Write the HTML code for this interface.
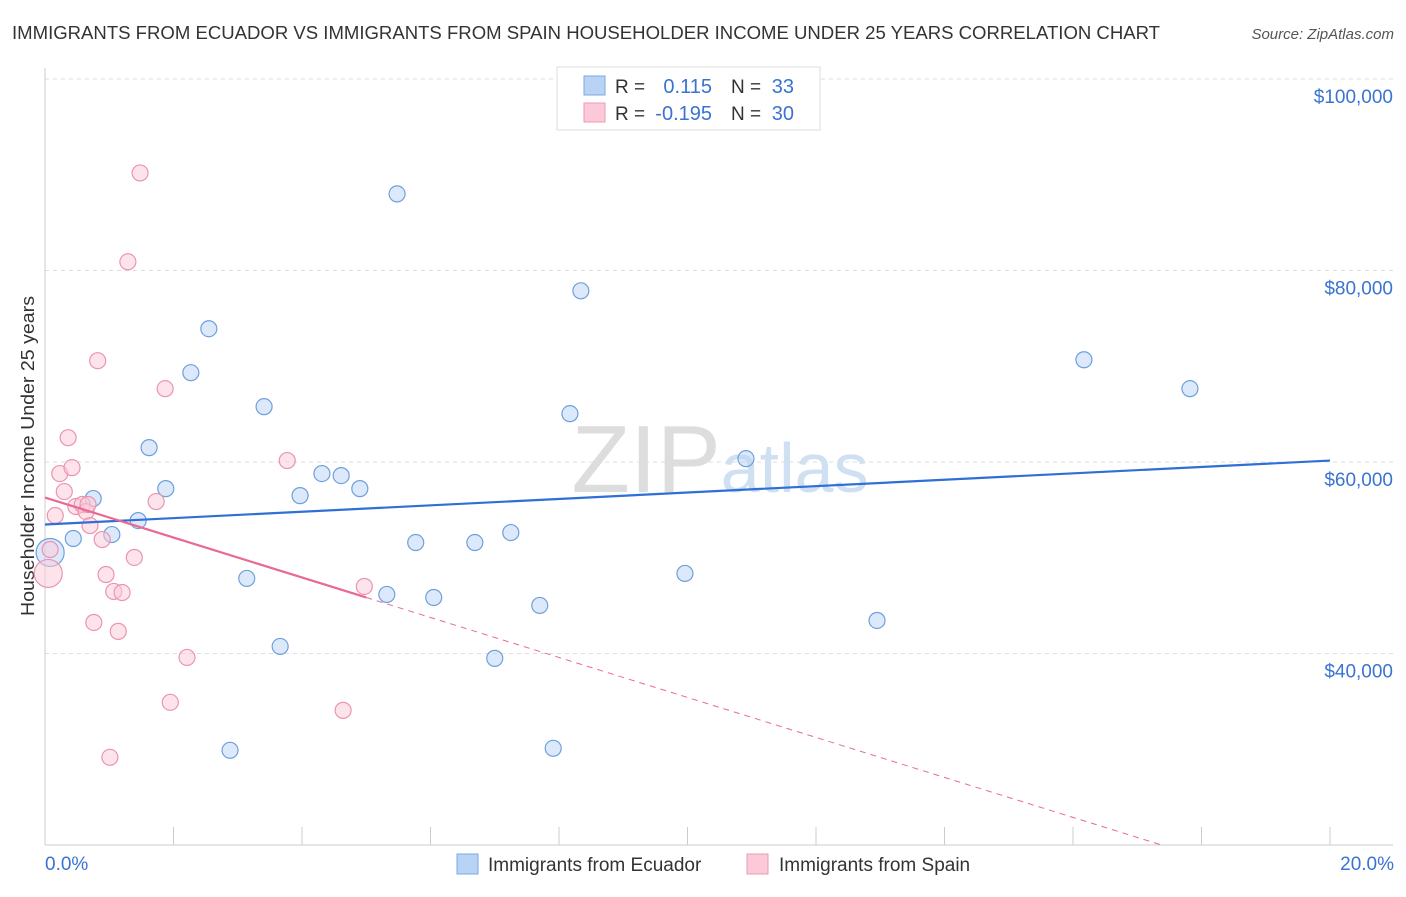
<!DOCTYPE html>
<html><head><meta charset="utf-8"><style>
body{margin:0;background:#fff;font-family:"Liberation Sans",sans-serif;}
svg text{font-family:"Liberation Sans",sans-serif;}
</style></head><body>
<svg id="chart" width="1406" height="892">
<text x="12" y="39" font-size="18" fill="#333" textLength="1148" lengthAdjust="spacingAndGlyphs">IMMIGRANTS FROM ECUADOR VS IMMIGRANTS FROM SPAIN HOUSEHOLDER INCOME UNDER 25 YEARS CORRELATION CHART</text>
<text x="1394" y="39" font-size="15" font-style="italic" fill="#555" text-anchor="end">Source: ZipAtlas.com</text>
<text x="720" y="492" font-size="96" fill="#ddd" font-family="Liberation Serif" text-anchor="middle">ZIP<tspan fill="#cfe0f3" font-family="Liberation Sans" font-size="70">atlas</tspan></text>
<text transform="translate(34,456) rotate(-90)" font-size="18" fill="#333" text-anchor="middle" textLength="320" lengthAdjust="spacingAndGlyphs">Householder Income Under 25 years</text>
<g id="grid"></g><g id="marks"></g>
<g>
<rect x="557" y="67" width="263" height="63" fill="#fff" stroke="#ddd"/>
<rect x="584" y="76" width="21" height="19" fill="#b9d3f5" stroke="#7aaae6"/>
<rect x="584" y="103" width="21" height="19" fill="#fbc9d8" stroke="#ec9ab5"/>
<text x="615" y="93" font-size="19" fill="#333">R =</text>
<text x="712" y="93" font-size="20" fill="#3a73d0" text-anchor="end">0.115</text>
<text x="731" y="93" font-size="19" fill="#333">N =</text>
<text x="794" y="93" font-size="20" fill="#3a73d0" text-anchor="end">33</text>
<text x="615" y="120" font-size="19" fill="#333">R =</text>
<text x="712" y="120" font-size="20" fill="#3a73d0" text-anchor="end">-0.195</text>
<text x="731" y="120" font-size="19" fill="#333">N =</text>
<text x="794" y="120" font-size="20" fill="#3a73d0" text-anchor="end">30</text>
</g>
<g>
<rect x="457" y="854" width="21" height="20" fill="#b9d3f5" stroke="#7aaae6"/>
<text x="488" y="871" font-size="19" fill="#333">Immigrants from Ecuador</text>
<rect x="747" y="854" width="21" height="20" fill="#fbc9d8" stroke="#ec9ab5"/>
<text x="779" y="871" font-size="19" fill="#333">Immigrants from Spain</text>
</g>
</svg>
<script>
const xTickVals=[0,20];
const yTickVals=[40000,60000,80000,100000];
const yTickLabels=["$40,000","$60,000","$80,000","$100,000"];
const ecuadorX=[0.08,0.44,0.75,1.04,1.45,1.88,1.62,2.27,2.55,3.14,3.41,3.66,2.88,3.97,4.31,4.61,4.90,5.48,5.77,6.05,6.69,5.32,7.00,7.25,7.70,7.91,8.17,8.34,9.96,10.91,12.95,16.17,17.82];
const ecuadorY=[50550,52010,56180,52420,53880,57220,61500,69330,73920,47840,65780,40740,29890,56490,58790,58580,57220,88000,51590,45850,51590,46170,39490,52630,45020,30100,65050,77880,48360,60350,43450,70680,67660];
const spainX=[0.05,0.08,0.16,0.23,0.30,0.36,0.42,0.48,0.58,0.64,0.70,0.76,0.82,0.89,0.95,1.07,1.14,1.20,1.29,1.39,1.48,1.73,1.87,1.95,2.21,1.01,3.77,4.64,4.97,0.67];
const spainY=[48360,50860,54410,58790,56910,62540,59410,55350,55560,54820,53360,43240,70580,51900,48250,46480,42310,46370,80910,50030,90190,55870,67660,34900,39590,29160,60150,34060,47000,55560];
const ecuadorTrend=[53470,60150]; // at 0% and 20%
const spainTrend=[56290,-2088]; // intercept, slope per pct
const spainSolidEnd=5.0;
const NS="http://www.w3.org/2000/svg";
const sx=v=>45+v/20*1285;
const sy=v=>79+(100000-v)/80000*766;
function mk(t,a,p){const e=document.createElementNS(NS,t);for(const k in a)e.setAttribute(k,a[k]);p.appendChild(e);return e;}
const grid=document.getElementById('grid'),marks=document.getElementById('marks');
yTickVals.forEach((v,i)=>{
 const l=mk('line',{x1:45,x2:1393,y1:sy(v),y2:sy(v),stroke:'#ddd','stroke-dasharray':'4,4'},grid);
 
 
 const t=mk('text',{x:1393,y:sy(v)+24,'font-size':19,fill:'#3a73d0','text-anchor':'end'},grid);
 t.textContent=yTickLabels[i];
 
 
});
mk('line',{x1:45,x2:45,y1:68,y2:845,stroke:'#ccc'},grid);
mk('line',{x1:45,x2:1393,y1:845,y2:845,stroke:'#ccc'},grid);
for(let i=0;i<=10;i++){mk('line',{x1:sx(i*2),x2:sx(i*2),y1:827,y2:845,stroke:'#ccc'},grid);}
xTickVals.forEach((v,i)=>{
 const t=mk('text',{x:i?1394:45,y:870,'font-size':19,fill:'#3a73d0','text-anchor':i?'end':'start'},grid);
 t.textContent=v.toFixed(1)+'%';
 
 
});
function dots(X,Y,fill,stroke,name){X.forEach((x,i)=>{
 const c=mk('circle',{cx:sx(x),cy:sy(Y[i]),r:i==0?14:8,fill:fill,'fill-opacity':0.5,stroke:stroke,'stroke-width':1.2},marks);
 
 
});}
dots(ecuadorX,ecuadorY,'#b9d3f5','#6f9fdc','ecuador-point');
dots(spainX,spainY,'#fbc9d8','#eb94b2','spain-point');
const bl=mk('line',{x1:sx(0),y1:sy(ecuadorTrend[0]),x2:sx(20),y2:sy(ecuadorTrend[1]),stroke:'#2f6fd6','stroke-width':2.2},marks);


const sp=v=>spainTrend[0]+spainTrend[1]*v;
const xEnd=(20000-spainTrend[0])/spainTrend[1];
const pd=mk('line',{x1:sx(spainSolidEnd),y1:sy(sp(spainSolidEnd)),x2:sx(xEnd),y2:sy(20000),stroke:'#e86a94','stroke-width':1,'stroke-dasharray':'6,5'},marks);


const ps=mk('line',{x1:sx(0),y1:sy(sp(0)),x2:sx(spainSolidEnd),y2:sy(sp(spainSolidEnd)),stroke:'#e86a94','stroke-width':2.2},marks);


</script>
</body></html>
